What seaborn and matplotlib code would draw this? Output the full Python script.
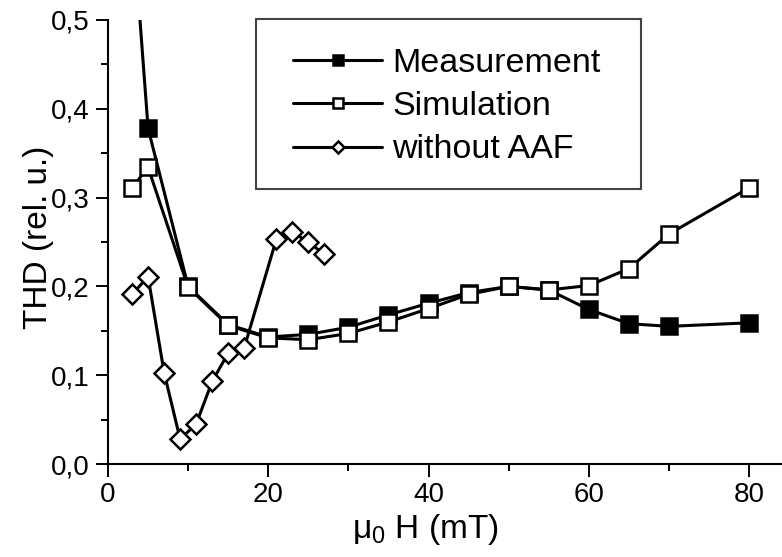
import matplotlib
matplotlib.use("Agg")
import matplotlib.pyplot as plt
import seaborn as sns
from matplotlib.ticker import MultipleLocator, FuncFormatter
from matplotlib.patches import Rectangle

# Data
meas_x = [3, 5, 10, 15, 20, 25, 30, 35, 40, 45, 50, 55, 60, 65, 70, 80]
meas_y = [0.62, 0.378, 0.200, 0.157, 0.143, 0.146, 0.154, 0.168, 0.181, 0.193, 0.200, 0.196, 0.174, 0.158, 0.155, 0.159]

sim_x = [3, 5, 10, 15, 20, 25, 30, 35, 40, 45, 50, 55, 60, 65, 70, 80]
sim_y = [0.311, 0.334, 0.199, 0.156, 0.142, 0.140, 0.147, 0.160, 0.175, 0.191, 0.200, 0.196, 0.201, 0.220, 0.259, 0.311]

aaf_x = [3, 5, 7, 9, 11, 13, 15, 17, 21, 23, 25, 27]
aaf_y = [0.191, 0.211, 0.103, 0.028, 0.045, 0.093, 0.125, 0.131, 0.253, 0.261, 0.250, 0.236]

sns.set_theme(style="ticks")
plt.rcParams['font.family'] = ['Liberation Sans', 'DejaVu Sans']
plt.rcParams['mathtext.fontset'] = 'custom'
plt.rcParams['mathtext.rm'] = 'Liberation Sans'
plt.rcParams['mathtext.it'] = 'Liberation Sans:italic'
for k in ['text.color', 'axes.labelcolor', 'xtick.color', 'ytick.color', 'axes.edgecolor']:
    plt.rcParams[k] = 'black'

W, H = 782, 557
fig = plt.figure(figsize=(W / 100, H / 100), dpi=100)
ax = fig.add_axes([108/W, 93/H, 674/W, 444/H])

lw = 2.2
sns.lineplot(x=meas_x, y=meas_y, ax=ax, color='black', lw=lw, marker='s', markersize=11.5,
             markerfacecolor='black', markeredgecolor='black', markeredgewidth=1.8,
             label='Measurement', sort=False)
sns.lineplot(x=sim_x, y=sim_y, ax=ax, color='black', lw=lw, marker='s', markersize=11.5,
             markerfacecolor='white', markeredgecolor='black', markeredgewidth=1.8,
             label='Simulation', sort=False)
sns.lineplot(x=aaf_x, y=aaf_y, ax=ax, color='black', lw=lw, marker='D', markersize=10,
             markerfacecolor='white', markeredgecolor='black', markeredgewidth=1.8,
             label='without AAF', sort=False)

ax.set_xlim(0, 84.1)
ax.set_ylim(0, 0.5)
ax.xaxis.set_major_locator(MultipleLocator(20))
ax.xaxis.set_minor_locator(MultipleLocator(10))
ax.yaxis.set_major_locator(MultipleLocator(0.1))
ax.yaxis.set_minor_locator(MultipleLocator(0.05))
ax.yaxis.set_major_formatter(FuncFormatter(lambda v, p: f"{v:.1f}".replace('.', ',')))

for s in ['top', 'right']:
    ax.spines[s].set_visible(False)
for s in ['left', 'bottom']:
    ax.spines[s].set_linewidth(1.5)
    ax.spines[s].set_color('black')

ax.tick_params(which='major', direction='out', length=9, width=1.4, labelsize=20, colors='black', pad=4)
ax.tick_params(which='minor', direction='out', length=5, width=1.4)

ax.set_xlabel(r'μ$_\mathrm{0}$ H (mT)', fontsize=24)
ax.xaxis.set_label_coords((425 - 108) / 674, -0.108)
ax.set_ylabel('THD (rel. u.)', fontsize=24)
ax.yaxis.set_label_coords((54 - 108) / 674, (464 - 237) / 444)

# legend frame drawn as a separate rectangle (pixel coords of the reference box)
frame = Rectangle((256/W, 1 - 189/H), (641 - 256)/W, (189 - 19)/H,
                  transform=fig.transFigure, facecolor='white',
                  edgecolor='#444444', linewidth=1.5, zorder=4.5, clip_on=False)
ax.add_artist(frame)
leg = ax.legend(loc='upper left', bbox_to_anchor=(293/W, 1 - 48/H), bbox_transform=fig.transFigure,
                fontsize=24.5, frameon=False,
                handlelength=2.62, handletextpad=0.3, labelspacing=0.36, borderpad=0,
                borderaxespad=0, markerscale=0.6)
leg.set_zorder(6)

fig.savefig('out.png', dpi=100)
